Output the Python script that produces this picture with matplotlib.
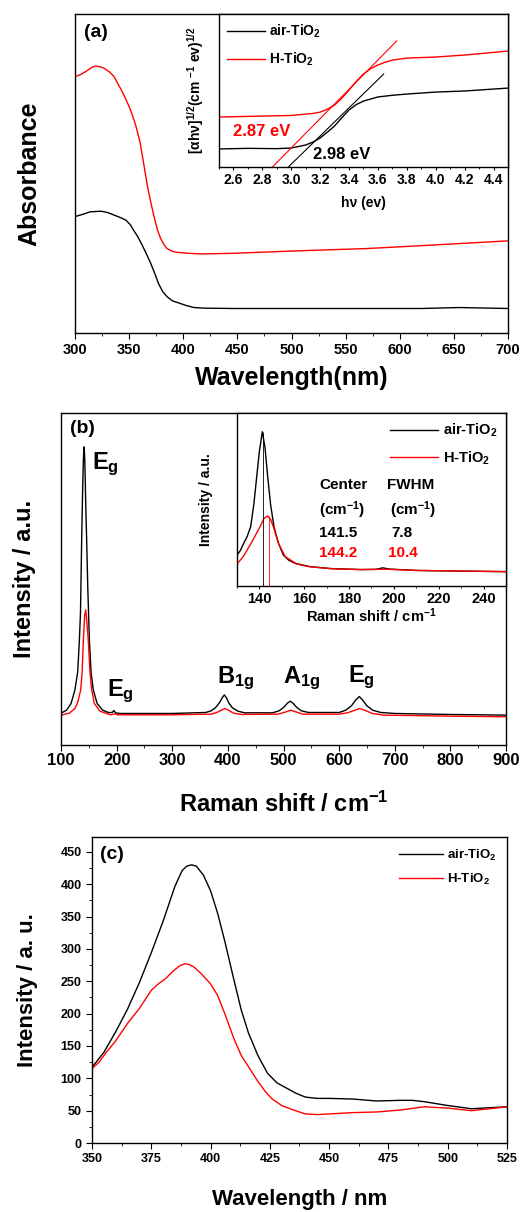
import numpy as np
import matplotlib
matplotlib.use("Agg")
import matplotlib.pyplot as plt
from matplotlib.ticker import MultipleLocator

plt.rcParams['font.family'] = ['Liberation Sans', 'DejaVu Sans']
plt.rcParams['font.weight'] = 'bold'
plt.rcParams['axes.labelweight'] = 'bold'
plt.rcParams['mathtext.default'] = 'regular'
plt.rcParams['axes.linewidth'] = 1.0

# ---- (a) UV-vis absorbance ----
wl_air = [300, 307, 314, 324, 330, 336, 342, 347, 351, 354, 358, 362, 366, 370, 374, 377,
          381, 385, 390, 397, 403, 410, 420, 446, 500, 560, 620, 655, 700]
abs_air = [0.365, 0.372, 0.380, 0.382, 0.378, 0.370, 0.362, 0.354, 0.340, 0.323, 0.302,
           0.276, 0.248, 0.218, 0.184, 0.156, 0.130, 0.114, 0.101, 0.093, 0.086, 0.080,
           0.078, 0.077, 0.077, 0.077, 0.077, 0.080, 0.077]
wl_h = [300, 305, 311, 315, 319, 323, 327, 332, 336, 342, 346, 350, 353, 356, 360, 363, 367,
        370, 373, 376, 379, 382, 385, 390, 394, 405, 416, 446, 508, 570, 631, 700]
abs_h = [0.804, 0.810, 0.822, 0.832, 0.837, 0.835, 0.830, 0.818, 0.804, 0.767, 0.740, 0.710,
         0.683, 0.652, 0.600, 0.540, 0.459, 0.410, 0.365, 0.325, 0.297, 0.278, 0.265, 0.256,
         0.253, 0.250, 0.248, 0.250, 0.258, 0.265, 0.276, 0.289]

# Tauc plot inset
ev_air = [2.5, 2.7, 2.9, 3.0, 3.1, 3.15, 3.2, 3.25, 3.3, 3.35, 3.4, 3.45, 3.5, 3.6, 3.7,
          3.8, 4.0, 4.2, 4.5]
tauc_air = [0.118, 0.122, 0.120, 0.124, 0.144, 0.163, 0.190, 0.228, 0.268, 0.322, 0.373,
            0.408, 0.431, 0.458, 0.469, 0.477, 0.490, 0.497, 0.516]
ev_h = [2.5, 2.8, 3.0, 3.15, 3.2, 3.25, 3.3, 3.35, 3.4, 3.45, 3.5, 3.55, 3.6, 3.65, 3.7,
        3.8, 4.0, 4.2, 4.5]
tauc_h = [0.327, 0.333, 0.337, 0.350, 0.359, 0.378, 0.405, 0.450, 0.503, 0.560, 0.608,
          0.643, 0.667, 0.685, 0.699, 0.712, 0.719, 0.732, 0.758]
fit_air_x = [2.98, 3.64]
fit_air_y = [0.0, 0.608]
fit_h_x = [2.87, 3.73]
fit_h_y = [0.0, 0.824]

# ---- (b) Raman ----
rs_air = [100, 110, 118, 125, 130, 133, 135, 137.1, 139, 140.3, 141.3, 142.2, 143, 144.5,
          146.1, 148, 151, 154, 158, 165, 175, 185, 192, 195, 198, 205, 250, 300, 360, 370,
          378, 385, 390, 393.6, 397, 402, 408, 418, 430, 480, 492, 500, 507, 512, 517, 524,
          532, 545, 600, 612, 622, 630, 636.3, 642, 650, 660, 675, 700, 800, 900]
int_air = [9.6, 10.5, 12.5, 16.6, 22.0, 31.6, 40.0, 61.7, 78.0, 86.5, 89.8, 88.0, 84.0, 72.0,
           61.7, 48.0, 31.6, 22.0, 16.6, 12.5, 10.5, 9.8, 9.8, 10.4, 9.7, 9.5, 9.5, 9.5, 9.8,
           10.3, 11.3, 12.8, 14.3, 15.1, 14.3, 12.6, 11.2, 10.2, 9.7, 9.7, 10.3, 11.3, 12.6,
           13.2, 12.6, 11.3, 10.3, 9.8, 9.8, 10.5, 11.8, 13.6, 14.6, 13.6, 11.8, 10.5, 9.8,
           9.5, 9.2, 9.0]
rs_h = [100, 115, 125, 130, 135.4, 138, 140.1, 142.5, 144.3, 146, 149, 152, 155.1, 160, 170,
        185, 190, 196, 202, 300, 370, 380, 388, 395, 402, 410, 425, 490, 503, 513, 522, 535,
        600, 615, 627, 637, 647, 660, 680, 800, 900]
int_h = [9.0, 9.6, 11.0, 12.8, 16.6, 22.0, 31.6, 39.0, 40.7, 38.0, 31.6, 22.0, 16.6, 12.5,
         10.2, 9.3, 9.1, 9.4, 9.1, 9.1, 9.3, 9.8, 10.5, 11.0, 10.4, 9.6, 9.2, 9.3, 9.9, 10.5,
         10.0, 9.3, 9.3, 9.7, 10.4, 11.0, 10.4, 9.5, 9.0, 8.7, 8.5]

# Raman inset (zoom on Eg mode)
ri_air = [130, 131.5, 133, 134.5, 136.1, 137.5, 138.8, 140, 141.3, 142.5, 143.7, 145, 146.5,
          148.5, 150.7, 153, 155.9, 162.6, 171.6, 185, 192, 195, 198, 210, 230, 250]
ii_air = [17.9, 20.5, 24.7, 28.5, 34.3, 47.0, 63.2, 78.0, 89.2, 80.0, 63.2, 47.0, 34.3, 24.7,
          17.9, 15.0, 13.1, 11.2, 10.1, 9.5, 9.6, 10.5, 9.8, 9.0, 8.6, 8.3]
ri_h = [130, 132.8, 136.3, 140.3, 142, 143.7, 145, 146.2, 148.5, 151.5, 156.7, 162, 172, 185,
        196, 210, 250]
ii_h = [12.7, 17.0, 24.7, 34.3, 39.0, 40.5, 38.5, 34.3, 24.7, 17.0, 12.7, 11.2, 10.0, 9.5,
        9.7, 9.0, 8.3]
center = [141.5, 144.2]
fwhm = [7.8, 10.4]

# ---- (c) PL ----
pl_x_air = [350, 355, 360, 365, 370, 375, 380, 385, 388, 390, 392, 394, 397, 400, 403, 406,
            410, 413, 416, 420, 424, 428, 432, 436, 440, 445, 450, 460, 470, 480, 485, 490,
            500, 510, 520, 525]
pl_air = [117, 140, 172, 207, 248, 294, 343, 397, 421, 428, 430, 428, 414, 390, 355, 312, 250,
          205, 170, 135, 108, 93, 85, 77, 71, 69, 69, 68, 65, 66, 66, 64, 58, 53, 55, 56]
pl_x_h = [350, 353, 356, 360, 365, 370, 375, 378, 381, 384, 387, 389, 391, 393, 396, 400,
          403, 406, 408, 410, 413, 416, 420, 423, 426, 430, 435, 440, 445, 450, 460, 470, 480,
          490, 500, 510, 520, 525]
pl_h = [115, 125, 140, 158, 185, 208, 236, 246, 254, 265, 274, 277, 276, 272, 262, 246, 228,
        200, 180, 160, 135, 118, 95, 80, 68, 58, 51, 45, 44, 45, 47, 48, 51, 56, 54, 50, 54, 56]

RED = '#ff0000'
fig = plt.figure(figsize=(5.22, 12.12), dpi=100)


def bold_ticks(a):
    for t in a.get_xticklabels() + a.get_yticklabels():
        t.set_fontweight('bold')


# panel (a)
ax = fig.add_axes([0.1437, 0.7252, 0.8295, 0.2632])
ax.plot(wl_air, abs_air, color='black', lw=1.0)
ax.plot(wl_h, abs_h, color=RED, lw=1.0)
ax.set_xlim(300, 700)
ax.set_ylim(0, 1)
ax.set_yticks([])
ax.xaxis.set_major_locator(MultipleLocator(50))
ax.xaxis.set_minor_locator(MultipleLocator(25))
ax.tick_params(axis='x', which='major', direction='out', length=4, labelsize=10.5)
ax.tick_params(axis='x', which='minor', direction='out', length=2.5)
ax.set_xlabel('Wavelength(nm)', fontsize=18, labelpad=6)
ax.set_ylabel('Absorbance', fontsize=18, labelpad=24)
ax.text(0.02, 0.97, '(a)', transform=ax.transAxes, fontsize=14, va='top')
bold_ticks(ax)

ins = fig.add_axes([0.4195, 0.8622, 0.5536, 0.1262])
ins.plot(ev_air, tauc_air, color='black', lw=1.0, label='air-TiO$_2$')
ins.plot(ev_h, tauc_h, color=RED, lw=1.0, label='H-TiO$_2$')
ins.plot(fit_air_x, fit_air_y, color='black', lw=0.8)
ins.plot(fit_h_x, fit_h_y, color=RED, lw=0.8)
ins.set_xlim(2.5, 4.5)
ins.set_ylim(0, 1)
ins.set_yticks([])
ins.xaxis.set_major_locator(MultipleLocator(0.2))
ins.xaxis.set_minor_locator(MultipleLocator(0.1))
ins.tick_params(axis='x', which='major', direction='out', length=2.5, labelsize=10, pad=2)
ins.tick_params(axis='x', which='minor', direction='out', length=1.5)
ins.set_xlabel('hν (ev)', fontsize=10, labelpad=6)
ins.set_ylabel('[αhν]$^{1/2}$(cm $^{-1}$ ev)$^{1/2}$', fontsize=10, labelpad=9)
ins.text(2.6, 0.23, '2.87 eV', color=RED, fontsize=12, va='center')
ins.text(3.15, 0.085, '2.98 eV', color='black', fontsize=12, va='center')
ins.legend(loc='upper left', frameon=False, fontsize=10, handlelength=2.7,
           borderaxespad=0.2, labelspacing=0.8, handletextpad=0.3)
bold_ticks(ins)

# panel (b)
ax = fig.add_axes([0.1169, 0.3853, 0.8525, 0.2739])
ax.plot(rs_air, int_air, color='black', lw=1.0)
ax.plot(rs_h, int_h, color=RED, lw=1.0)
ax.set_xlim(100, 900)
ax.set_ylim(0, 100)
ax.set_yticks([])
ax.xaxis.set_major_locator(MultipleLocator(100))
ax.xaxis.set_minor_locator(MultipleLocator(50))
ax.tick_params(axis='x', which='major', direction='out', length=4, labelsize=12, pad=2)
ax.tick_params(axis='x', which='minor', direction='out', length=2.5)
ax.set_xlabel('Raman shift / cm$^{-1}$', fontsize=17, labelpad=17)
ax.set_ylabel('Intensity / a.u.', fontsize=17, labelpad=18)
ax.text(0.02, 0.98, '(b)', transform=ax.transAxes, fontsize=14, va='top')
ax.text(155, 83, 'E$_g$', fontsize=17)
ax.text(182, 14.8, 'E$_g$', fontsize=17)
ax.text(380, 18.8, 'B$_{1g}$', fontsize=17)
ax.text(499, 18.8, 'A$_{1g}$', fontsize=17)
ax.text(616, 18.9, 'E$_g$', fontsize=17)
bold_ticks(ax)

ins = fig.add_axes([0.4540, 0.5165, 0.5153, 0.1427])
ins.plot(ri_air, ii_air, color='black', lw=1.0, label='air-TiO$_2$')
ins.plot(ri_h, ii_h, color=RED, lw=1.0, label='H-TiO$_2$')
ins.vlines(center[0], 0, 89.2, color='black', lw=0.6)
ins.vlines(center[1], 0, 40.5, color=RED, lw=0.6)
ins.set_xlim(130, 250)
ins.set_ylim(0, 100)
ins.set_yticks([])
ins.xaxis.set_major_locator(MultipleLocator(20))
ins.xaxis.set_minor_locator(MultipleLocator(10))
ins.tick_params(axis='x', which='major', direction='out', length=2.5, labelsize=10.5, pad=2)
ins.tick_params(axis='x', which='minor', direction='out', length=1.5)
ins.set_xlabel('Raman shift / cm$^{-1}$', fontsize=10.5, labelpad=0)
ins.set_ylabel('Intensity / a.u.', fontsize=10, labelpad=17)
ins.legend(loc='upper right', frameon=False, fontsize=10.5, handlelength=3.3,
           borderaxespad=0.2, labelspacing=0.7, handletextpad=0.3)
tb = dict(transform=ins.transAxes, fontsize=11, va='center')
ins.text(0.305, 0.584, 'Center', **tb)
ins.text(0.558, 0.584, 'FWHM', **tb)
ins.text(0.306, 0.439, '(cm$^{-1}$)', **tb)
ins.text(0.567, 0.439, '(cm$^{-1}$)', **tb)
ins.text(0.306, 0.306, f'{center[0]:.1f}', **tb)
ins.text(0.575, 0.306, f'{fwhm[0]:.1f}', **tb)
ins.text(0.306, 0.191, f'{center[1]:.1f}', color=RED, **tb)
ins.text(0.561, 0.191, f'{fwhm[1]:.1f}', color=RED, **tb)
bold_ticks(ins)

# panel (c)
ax = fig.add_axes([0.1762, 0.0569, 0.7950, 0.2525])
ax.plot(pl_x_air, pl_air, color='black', lw=1.0, label='air-TiO$_2$')
ax.plot(pl_x_h, pl_h, color=RED, lw=1.0, label='H-TiO$_2$')
ax.set_xlim(350, 525)
ax.set_ylim(0, 473)
ax.xaxis.set_major_locator(MultipleLocator(25))
ax.xaxis.set_minor_locator(MultipleLocator(12.5))
ax.yaxis.set_major_locator(MultipleLocator(50))
ax.yaxis.set_minor_locator(MultipleLocator(25))
ax.tick_params(which='major', direction='out', length=4, labelsize=9)
ax.tick_params(which='minor', direction='out', length=2.5)
ax.set_xlabel('Wavelength / nm', fontsize=16, labelpad=17)
ax.set_ylabel('Intensity / a. u.', fontsize=16, labelpad=16)
ax.text(0.02, 0.97, '(c)', transform=ax.transAxes, fontsize=14, va='top')
ax.legend(loc='upper right', frameon=False, fontsize=9.5, handlelength=3.3,
          borderaxespad=0.4, labelspacing=0.7, handletextpad=0.3)
bold_ticks(ax)

fig.savefig('out.png', dpi=100)
